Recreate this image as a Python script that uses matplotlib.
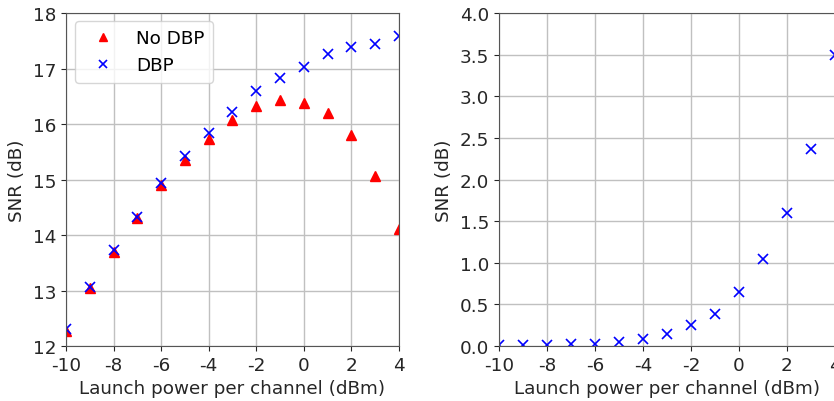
import matplotlib
matplotlib.use("Agg")
import matplotlib.pyplot as plt

plt.rcParams['axes.unicode_minus'] = False
plt.rcParams['font.family'] = ['DejaVu Sans']

power = [-10, -9, -8, -7, -6, -5, -4, -3, -2, -1, 0, 1, 2, 3, 4]
snr_no_dbp = [12.27, 13.05, 13.70, 14.30, 14.90, 15.35, 15.73, 16.07, 16.33,
              16.43, 16.38, 16.20, 15.80, 15.07, 14.10]
snr_dbp = [12.30, 13.07, 13.73, 14.33, 14.93, 15.42, 15.83, 16.21, 16.59,
           16.82, 17.03, 17.26, 17.39, 17.44, 17.58]
snr_gain = [0.01, 0.01, 0.01, 0.02, 0.02, 0.05, 0.08, 0.145, 0.25,
            0.38, 0.65, 1.05, 1.60, 2.37, 3.49]

fig = plt.figure(figsize=(8.34, 4.02), dpi=100)
ax1 = fig.add_axes([66/834, 1 - 347/402, 333/834, 333/402])
ax2 = fig.add_axes([499/834, 1 - 347/402, 336/834, 333/402])

fs = 13.2
ms = 7.5
ax1.plot(power, snr_no_dbp, '^', color='red', markersize=ms, label='No DBP')
ax1.plot(power, snr_dbp, 'x', color='blue', markersize=ms, markeredgewidth=1.2, label='DBP')
ax1.set_xlim(-10, 4)
ax1.set_ylim(12, 18)
ax1.set_xticks(range(-10, 5, 2))
ax1.set_yticks(range(12, 19))
ax1.set_xlabel('Launch power per channel (dBm)', fontsize=fs)
ax1.set_ylabel('SNR (dB)', fontsize=fs, labelpad=5)
ax1.legend(loc='upper left', fontsize=fs, markerscale=0.85,
           handlelength=2.1, handletextpad=0.8, borderaxespad=0,
           labelspacing=0.5, borderpad=0.45,
           bbox_to_anchor=(75/834, 1 - 22/402), bbox_transform=fig.transFigure)

ax2.plot(power, snr_gain, 'x', color='blue', markersize=ms, markeredgewidth=1.2)
ax2.set_xlim(-10, 4)
ax2.set_ylim(0, 4)
ax2.set_xticks(range(-10, 5, 2))
ax2.set_yticks([0, 0.5, 1.0, 1.5, 2.0, 2.5, 3.0, 3.5, 4.0])
ax2.set_xlabel('Launch power per channel (dBm)', fontsize=fs)
ax2.set_ylabel('SNR (dB)', fontsize=fs, labelpad=5)

for ax in (ax1, ax2):
    ax.grid(True, color='#c0c0c0', linewidth=1)
    ax.set_axisbelow(True)
    ax.tick_params(labelsize=fs, colors='#262626', labelcolor='#262626')
    ax.xaxis.label.set_color('#262626')
    ax.yaxis.label.set_color('#262626')
    for s in ax.spines.values():
        s.set_color('#555555')

fig.savefig('out.png', dpi=100)
